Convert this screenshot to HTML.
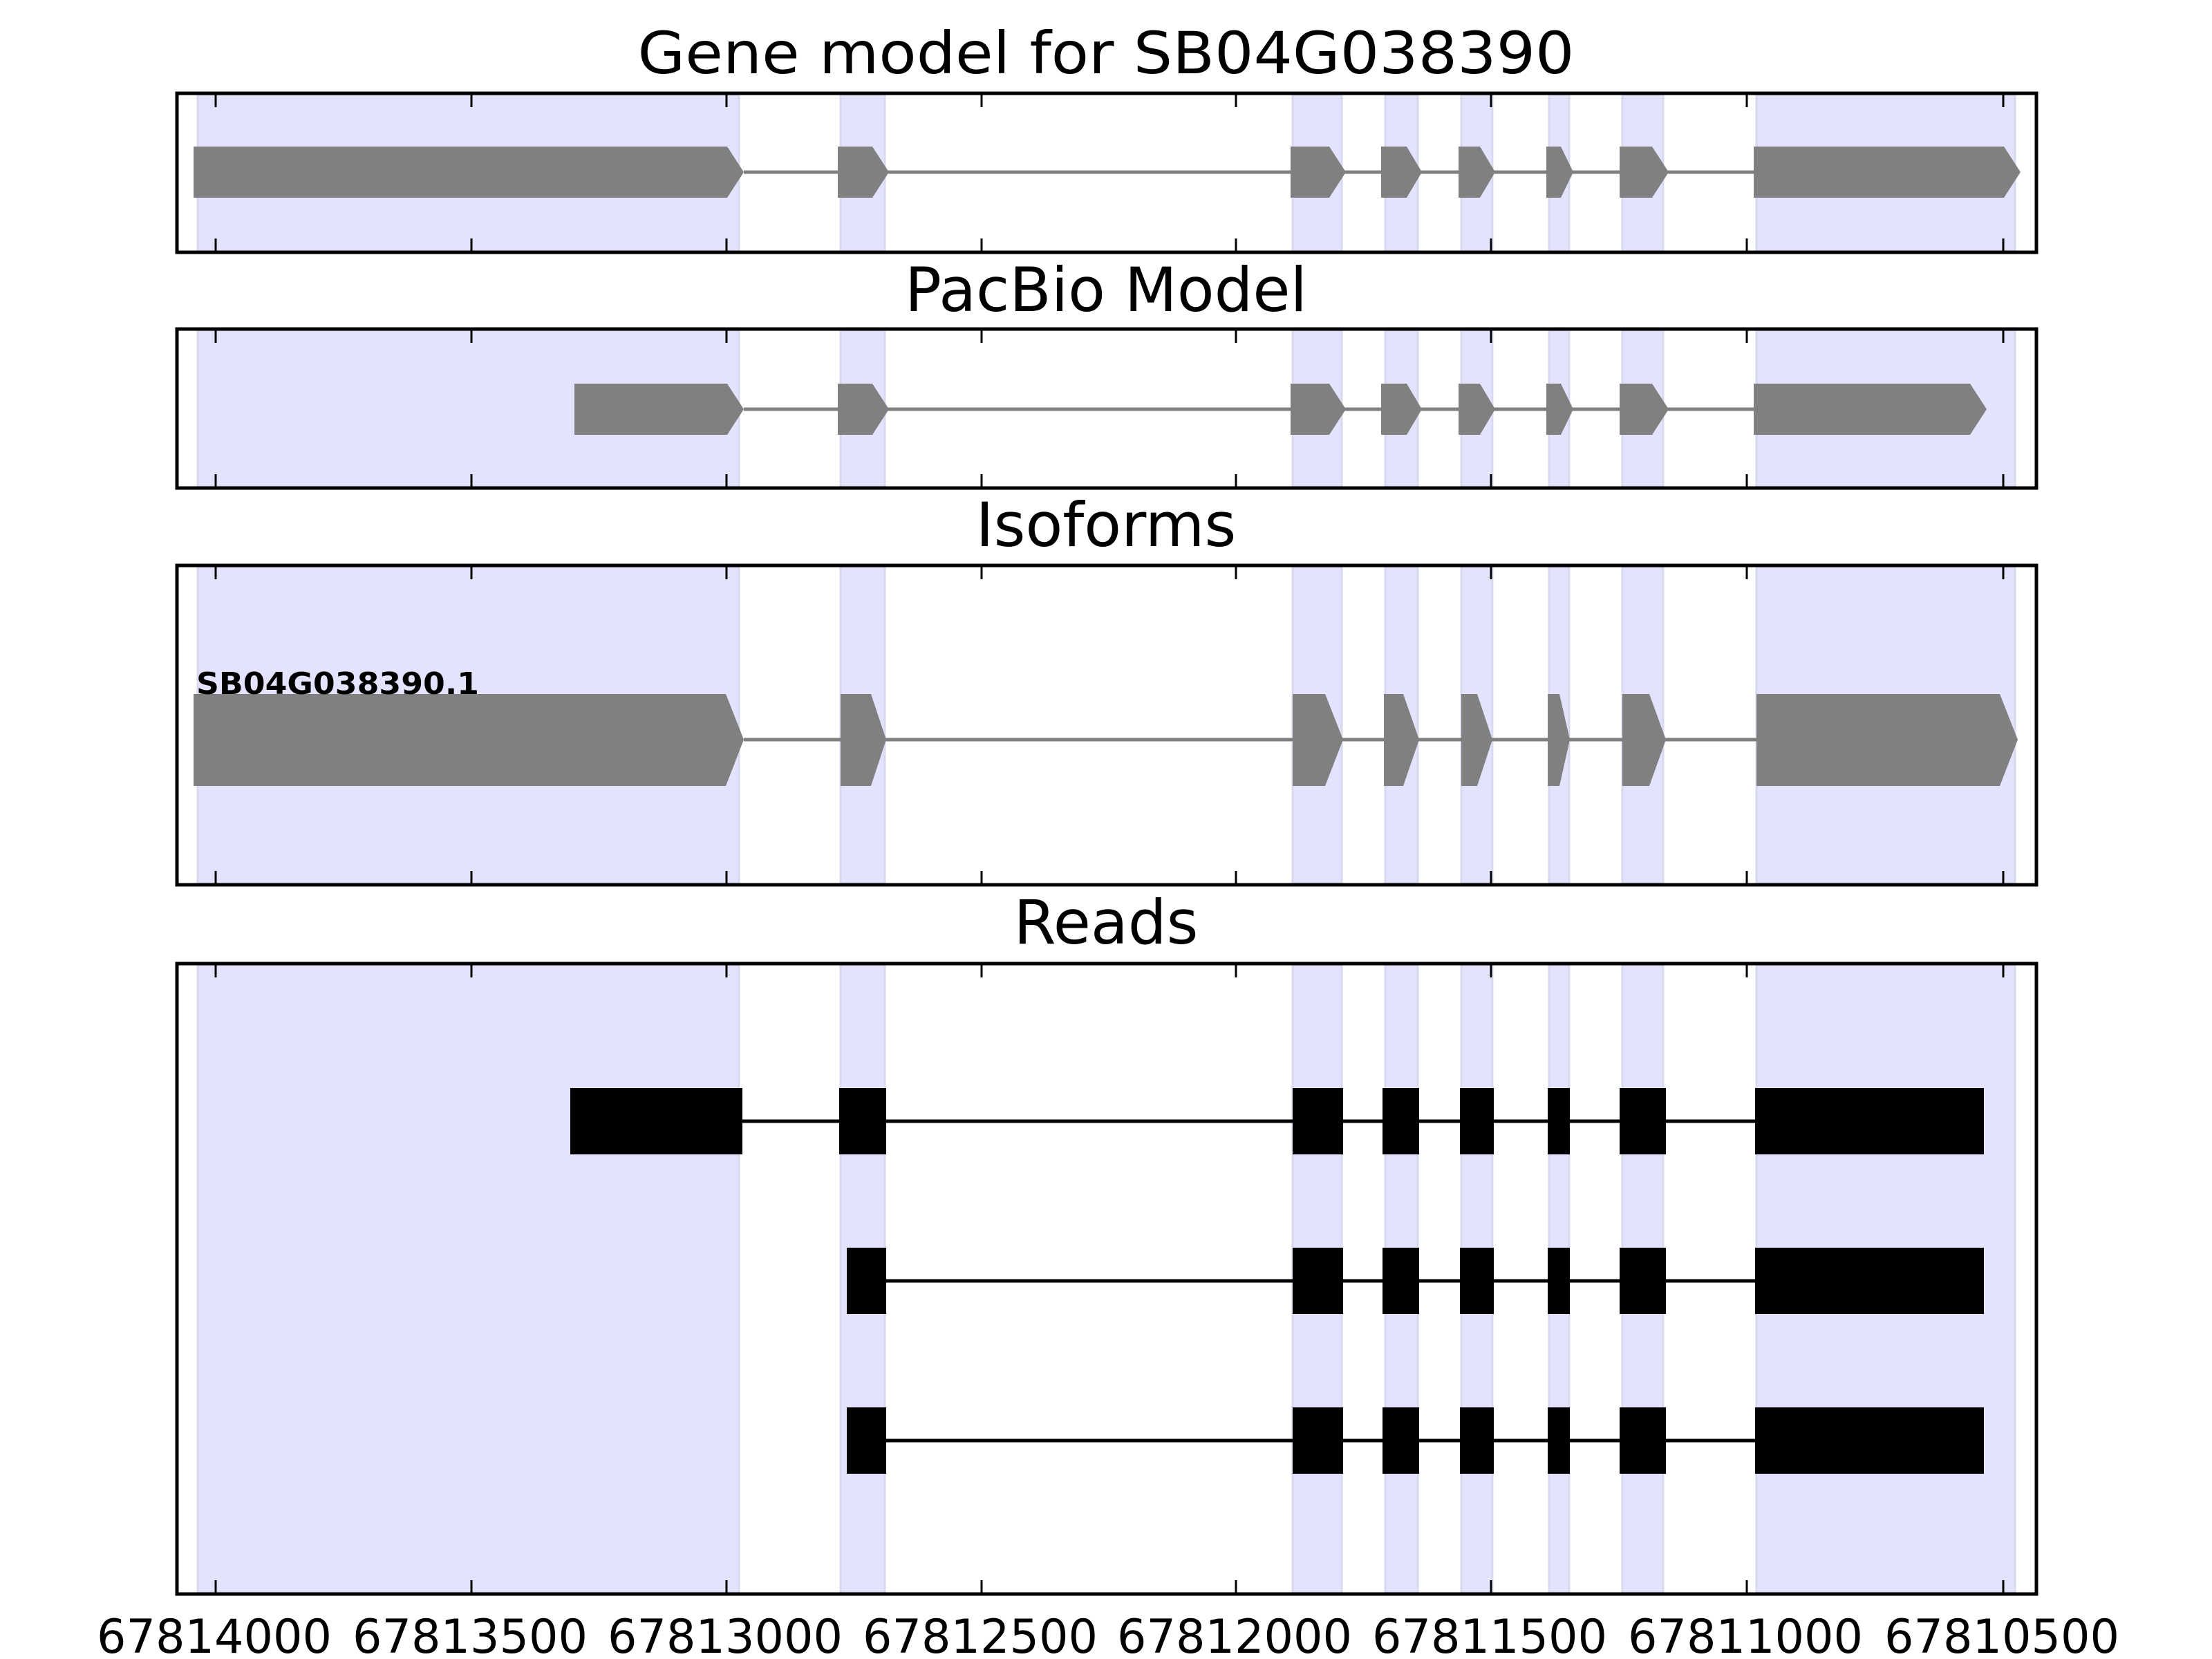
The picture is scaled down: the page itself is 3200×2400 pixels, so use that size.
<!DOCTYPE html>
<html><head><meta charset="utf-8"><style>html,body{margin:0;padding:0;background:#fff}svg{display:block}</style></head>
<body>
<svg width="3200" height="2400" viewBox="0 0 3200 2400" xmlns="http://www.w3.org/2000/svg" font-family="DejaVu Sans, Liberation Sans, sans-serif">
<!-- Titles -->
<text x="1600" y="106" font-size="84" text-anchor="middle" textLength="1355" lengthAdjust="spacingAndGlyphs">Gene model for SB04G038390</text>
<text x="1600" y="450" font-size="88" text-anchor="middle" textLength="582" lengthAdjust="spacingAndGlyphs">PacBio Model</text>
<text x="1600" y="790" font-size="88" text-anchor="middle">Isoforms</text>
<text x="1600" y="1365" font-size="88" text-anchor="middle">Reads</text>

<!-- Panel bands -->
<g fill="#e3e3fd" stroke="#d8d8ee" stroke-width="3">
<rect x="286" y="137" width="783" height="226"/><rect x="1216" y="137" width="64" height="226"/><rect x="1870" y="137" width="71" height="226"/><rect x="2004" y="137" width="47" height="226"/><rect x="2114" y="137" width="45" height="226"/><rect x="2241" y="137" width="29" height="226"/><rect x="2347" y="137" width="59" height="226"/><rect x="2541" y="137" width="374" height="226"/>
<rect x="286" y="478" width="783" height="226"/><rect x="1216" y="478" width="64" height="226"/><rect x="1870" y="478" width="71" height="226"/><rect x="2004" y="478" width="47" height="226"/><rect x="2114" y="478" width="45" height="226"/><rect x="2241" y="478" width="29" height="226"/><rect x="2347" y="478" width="59" height="226"/><rect x="2541" y="478" width="374" height="226"/>
<rect x="286" y="820" width="783" height="458"/><rect x="1216" y="820" width="64" height="458"/><rect x="1870" y="820" width="71" height="458"/><rect x="2004" y="820" width="47" height="458"/><rect x="2114" y="820" width="45" height="458"/><rect x="2241" y="820" width="29" height="458"/><rect x="2347" y="820" width="59" height="458"/><rect x="2541" y="820" width="374" height="458"/>
<rect x="286" y="1396" width="783" height="908"/><rect x="1216" y="1396" width="64" height="908"/><rect x="1870" y="1396" width="71" height="908"/><rect x="2004" y="1396" width="47" height="908"/><rect x="2114" y="1396" width="45" height="908"/><rect x="2241" y="1396" width="29" height="908"/><rect x="2347" y="1396" width="59" height="908"/><rect x="2541" y="1396" width="374" height="908"/>
</g>

<!-- Panel 1 gene model -->
<line x1="1076" y1="249" x2="2537" y2="249" stroke="#808080" stroke-width="5"/>
<g fill="#808080">
<polygon points="280,212 1052,212 1076,249 1052,286 280,286"/>
<polygon points="1212,212 1262,212 1286,249 1262,286 1212,286"/>
<polygon points="1867,212 1923,212 1947,249 1923,286 1867,286"/>
<polygon points="1998,212 2035,212 2057,249 2035,286 1998,286"/>
<polygon points="2110,212 2141,212 2163,249 2141,286 2110,286"/>
<polygon points="2237,212 2258,212 2276,249 2258,286 2237,286"/>
<polygon points="2343,212 2390,212 2414,249 2390,286 2343,286"/>
<polygon points="2537,212 2899,212 2923,249 2899,286 2537,286"/>
</g>
<!-- Panel 2 -->
<line x1="1076" y1="592" x2="2537" y2="592" stroke="#808080" stroke-width="5"/>
<g fill="#808080">
<polygon points="831,555 1052,555 1076,592 1052,629 831,629"/>
<polygon points="1212,555 1262,555 1286,592 1262,629 1212,629"/>
<polygon points="1867,555 1923,555 1947,592 1923,629 1867,629"/>
<polygon points="1998,555 2035,555 2057,592 2035,629 1998,629"/>
<polygon points="2110,555 2141,555 2163,592 2141,629 2110,629"/>
<polygon points="2237,555 2258,555 2276,592 2258,629 2237,629"/>
<polygon points="2343,555 2390,555 2414,592 2390,629 2343,629"/>
<polygon points="2537,555 2850,555 2874,592 2850,629 2537,629"/>
</g>
<!-- Panel 3 -->
<line x1="1076" y1="1070" x2="2541" y2="1070" stroke="#808080" stroke-width="5"/>
<g fill="#808080">
<polygon points="280,1004 1050,1004 1076,1070 1050,1137 280,1137"/>
<polygon points="1216,1004 1260,1004 1282,1070 1260,1137 1216,1137"/>
<polygon points="1870,1004 1917,1004 1943,1070 1917,1137 1870,1137"/>
<polygon points="2002,1004 2030,1004 2053,1070 2030,1137 2002,1137"/>
<polygon points="2114,1004 2137,1004 2159,1070 2137,1137 2114,1137"/>
<polygon points="2239,1004 2256,1004 2271,1070 2256,1137 2239,1137"/>
<polygon points="2347,1004 2386,1004 2410,1070 2386,1137 2347,1137"/>
<polygon points="2541,1004 2893,1004 2919,1070 2893,1137 2541,1137"/>
</g>
<text x="284" y="1004" font-size="44" font-weight="bold" textLength="409" lengthAdjust="spacingAndGlyphs">SB04G038390.1</text>

<!-- Panel 4 reads -->
<g stroke="#000" stroke-width="5">
<line x1="1074" y1="1622" x2="2870" y2="1622"/>
<line x1="1282" y1="1853" x2="2870" y2="1853"/>
<line x1="1282" y1="2084" x2="2870" y2="2084"/>
</g>
<g fill="#000">
<rect x="825" y="1574" width="249" height="96"/><rect x="1214" y="1574" width="68" height="96"/><rect x="1870" y="1574" width="73" height="96"/><rect x="2000" y="1574" width="53" height="96"/><rect x="2112" y="1574" width="49" height="96"/><rect x="2239" y="1574" width="32" height="96"/><rect x="2343" y="1574" width="67" height="96"/><rect x="2539" y="1574" width="331" height="96"/>
<rect x="1225" y="1805" width="57" height="96"/><rect x="1870" y="1805" width="73" height="96"/><rect x="2000" y="1805" width="53" height="96"/><rect x="2112" y="1805" width="49" height="96"/><rect x="2239" y="1805" width="32" height="96"/><rect x="2343" y="1805" width="67" height="96"/><rect x="2539" y="1805" width="331" height="96"/>
<rect x="1225" y="2036" width="57" height="96"/><rect x="1870" y="2036" width="73" height="96"/><rect x="2000" y="2036" width="53" height="96"/><rect x="2112" y="2036" width="49" height="96"/><rect x="2239" y="2036" width="32" height="96"/><rect x="2343" y="2036" width="67" height="96"/><rect x="2539" y="2036" width="331" height="96"/>
</g>

<!-- Frames -->
<g fill="none" stroke="#000" stroke-width="5">
<rect x="256" y="135" width="2690" height="230"/>
<rect x="256" y="476" width="2690" height="230"/>
<rect x="256" y="818" width="2690" height="462"/>
<rect x="256" y="1394" width="2690" height="912"/>
</g>
<!-- Ticks -->
<g stroke="#000" stroke-width="3">
<path d="M312 137v18M682 137v18M1051 137v18M1420 137v18M1788 137v18M2157 137v18M2527 137v18M2898 137v18
M312 363v-18M682 363v-18M1051 363v-18M1420 363v-18M1788 363v-18M2157 363v-18M2527 363v-18M2898 363v-18
M312 478v18M682 478v18M1051 478v18M1420 478v18M1788 478v18M2157 478v18M2527 478v18M2898 478v18
M312 704v-18M682 704v-18M1051 704v-18M1420 704v-18M1788 704v-18M2157 704v-18M2527 704v-18M2898 704v-18
M312 820v18M682 820v18M1051 820v18M1420 820v18M1788 820v18M2157 820v18M2527 820v18M2898 820v18
M312 1278v-18M682 1278v-18M1051 1278v-18M1420 1278v-18M1788 1278v-18M2157 1278v-18M2527 1278v-18M2898 1278v-18
M312 1396v18M682 1396v18M1051 1396v18M1420 1396v18M1788 1396v18M2157 1396v18M2527 1396v18M2898 1396v18
M312 2304v-18M682 2304v-18M1051 2304v-18M1420 2304v-18M1788 2304v-18M2157 2304v-18M2527 2304v-18M2898 2304v-18"/>
</g>
<!-- Tick labels -->
<g font-size="68" text-anchor="middle">
<text x="310" y="2391" textLength="340" lengthAdjust="spacingAndGlyphs">67814000</text>
<text x="680" y="2391" textLength="340" lengthAdjust="spacingAndGlyphs">67813500</text>
<text x="1049" y="2391" textLength="340" lengthAdjust="spacingAndGlyphs">67813000</text>
<text x="1418" y="2391" textLength="340" lengthAdjust="spacingAndGlyphs">67812500</text>
<text x="1786" y="2391" textLength="340" lengthAdjust="spacingAndGlyphs">67812000</text>
<text x="2155" y="2391" textLength="340" lengthAdjust="spacingAndGlyphs">67811500</text>
<text x="2525" y="2391" textLength="340" lengthAdjust="spacingAndGlyphs">67811000</text>
<text x="2896" y="2391" textLength="340" lengthAdjust="spacingAndGlyphs">67810500</text>
</g>
</svg>
</body></html>
